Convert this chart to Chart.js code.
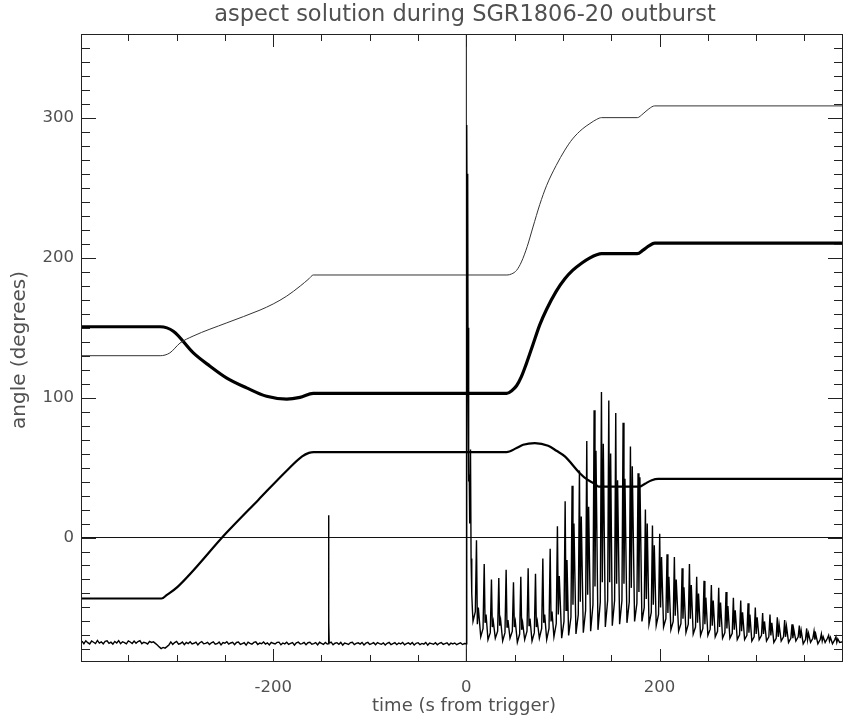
<!DOCTYPE html>
<html><head><meta charset="utf-8">
<script src="https://cdn.jsdelivr.net/npm/chart.js@4.4.0/dist/chart.umd.min.js"></script>
<style>html,body{margin:0;padding:0;background:#fff}canvas{display:block}</style>
</head><body>
<canvas id="c" width="844" height="719"></canvas>
<script>
// ---------------- text ----------------
const titleText = 'aspect solution during SGR1806-20 outburst';
const xTitle = 'time (s from trigger)';
const yTitle = 'angle (degrees)';

// ---------------- axes ----------------
const xRange = [-399, 390];
const yRange = [-89, 360];
const xMinorStep = 50, xMajorStep = 200;
const yMinorStep = 10, yMajorStep = 100;

// ---------------- aspect angles (thin, thick, medium) ----------------
const thinT = [-399, -317, -307, -296.5, -283, -248, -213.7, -200, -186, -172, -163, -158.5, 42, 47, 52, 57, 63, 69, 76, 83, 93, 102, 110, 120, 128, 135, 140, 177, 183, 189, 195, 390];
const thinV = [130, 130, 132, 139, 144, 153.5, 162.6, 167, 172.6, 179.8, 185, 187.7, 187.7, 188.5, 191, 197, 208, 222, 238, 251.5, 266, 277, 285, 292, 296, 299, 300.2, 300.2, 303, 306.5, 308.6, 308.6];

const thickT = [-399, -317, -303.4, -282.7, -265.4, -248, -227.5, -206.8, -186, -172.3, -158.5, 41.6, 47, 52, 57, 62, 69, 76, 83, 93, 102, 110, 120, 128, 135, 140, 177, 183, 189, 195, 390];
const thickV = [150.7, 150.7, 147.5, 132, 122.5, 114, 107, 101, 99, 100.2, 103, 103, 105, 108.5, 115, 124, 138, 152, 163, 176, 185, 191, 196.5, 200, 202.2, 203, 203, 205.5, 208.5, 210.5, 210.5];

const medT = [-399, -315.6, -310, -299, -248.9, -215.4, -185, -170, -163, -158, 41.6, 52, 58.8, 70.9, 84.7, 93.3, 102, 117.5, 125, 133, 137, 179.5, 185, 192, 198.5, 390];
const medV = [-43.6, -43.6, -41, -35.3, 3, 26.9, 48.5, 58, 60.5, 61, 61, 64, 66.3, 67.5, 65.6, 62, 58, 46, 41.5, 38.4, 36.4, 36.4, 38.5, 41, 42, 42];

// ---------------- light curve ----------------
// pre-trigger background, 2 s bins starting at -398 s
const preT0 = -398, preStep = 2;
const preV = [
 -74.1,-75.9,-73.8,-75.2,-76.1,-74.0,-74.9,-75.8,-73.6,-75.5,
 -74.6,-76.0,-74.2,-73.9,-75.7,-74.8,-76.2,-74.3,-75.4,-73.7,
 -75.9,-74.5,-75.1,-76.0,-73.9,-74.7,-75.8,-74.0,-75.6,-74.4,
 -73.8,-75.9,-74.9,-75.3,-76.1,-74.2,-75.0,-74.6,-75.7,
 -76.9,-78.2,-79.4,-78.6,-79.1,-78.0,-76.8,
 -74.6,-76.4,-75.1,-74.3,-76.2,-75.8,-74.7,-76.6,-75.0,-75.9,
 -74.5,-76.1,-75.6,-74.8,-76.7,-75.2,-74.4,-76.0,-75.7,-74.9,
 -76.5,-75.3,-74.6,-76.3,-75.9,-74.8,-76.8,-75.1,-75.6,-74.5,
 -76.2,-75.4,-74.9,-76.6,-75.0,-74.7,-76.4,-75.8,-75.2,-76.9,
 -74.8,-75.7,-76.3,-75.0,-74.6,-76.5,-75.5,-75.9,-74.7,-76.2,
 -75.3,-76.8,-74.9,-75.6,-76.1,-75.0,-74.8,-76.7,-75.4,-76.0,
 -74.9,-76.4,-75.7,-75.1,-76.9,-75.3,-74.8,-76.2,-75.9,-75.0,
 -76.6,-75.2,-74.9,-76.3,-75.8,-75.1,-76.8,-74.9,-75.7,-76.4,
 -75.0,-76.1,-75.5,-74.8,-76.7,-75.6,-75.2,-76.3,-75.0,-76.9,
 -75.4,-75.9,-76.5,-75.1,-74.9,-76.6,-75.7,-75.3,-76.2,-75.0,
 -76.8,-75.5,-75.0,-76.4,-75.9,-75.2,-76.7,-75.1,-75.8,-76.3,
 -75.3,-76.9,-75.6,-75.0,-76.5,-75.8,-75.2,-76.6,-75.4,-76.1,
 -75.0,-76.7,-75.9,-75.3,-76.4,-75.1,-76.8,-75.6,-75.2,-76.5,
 -75.7,-76.2,-75.0,-76.9,-75.5,-75.9,-76.3,-75.2,-76.7,-75.6,
 -75.1,-76.4,-75.8,-75.3,-76.8,-75.5,-76.1,-75.4,-76.6,-75.9,
 -75.3,-76.5,-75.8];
// precursor spike
const spikeT = [-143.0, -142.7, -142.3];
const spikeV = [-76, 16, -60];
// giant flare initial spike
const burstT = [0, 0.2, 0.6, 1.0, 1.4, 1.8, 2.2, 2.6, 3.0, 3.5, 4.3, 4.9, 5.6, 6.3];
const burstV = [-76, 200, 295, 180, 260, 110, 150, 40, 45, 10, 63, -15, -40, -52];
// pulsating tail: main peak time; per pulse: trough, low (rise start), main peak, dip, second peak
const pulseT = [10.5,18.5,26.0,33.6,41.2,48.8,56.4,64.0,71.6,79.2,86.8,94.3,102.3,109.5,117.1,124.7,132.3,139.9,147.5,154.7,162.3,169.9,177.8,185.4,192.7,200.2,207.8,215.4,223.4,231.0,238.5,246.1,253.7,261.3,268.9,276.5,284.1,291.7,299.2,306.8,314.4,322.0,329.6,337.2,344.8,352.4,360.0,367.6,375.1,382.7];
const pulseTrough = [-60,-71,-73,-72,-74,-72,-75,-73,-74,-72,-73,-71,-72,-70,-69,-68,-67,-66,-64,-63,-62,-61,-60,-60,-62,-63,-64,-66,-67,-68,-69,-70,-70,-71,-72,-72,-73,-73,-74,-73,-74,-75,-74,-75,-74,-76,-75,-76,-75,-76];
const pulseLow = [-53,-65,-68,-67,-68,-67,-69,-67,-68,-65,-65,-61.5,-60,-57,-55,-52,-48,-46,-45,-45,-45,-46,-47,-50,-53.5,-55,-58,-60,-61.5,-62,-64,-65,-65.5,-67,-68,-68.5,-69.5,-70,-71,-70,-71,-72,-71,-72,-71,-73,-72,-73,-72,-73];
const pulsePeak = [-2,-19,-30,-29,-23,-32,-28,-22,-26,-15,-8,8,26,37,48,69,91,104,98,89,82,65,46,20,8.6,2.6,-12,-14,-22,-19,-28,-31,-34,-36,-39,-43,-45,-47,-50,-54,-55,-57,-59,-62,-63,-65,-67,-69,-70,-71];
const pulseDip = [-62,-61,-64,-63,-64,-64,-66,-63,-64,-61,-60,-55,-52,-48,-46,-41,-35,-32,-32,-33,-33,-36,-39,-44,-48,-50,-54,-56,-58,-58,-61,-62,-63,-64,-65,-66,-67,-68,-69,-69,-70,-71,-71,-72,-72,-73,-73,-74,-74,-75];
const pulseSecond = [-50,-55,-60,-59,-59,-60,-61,-58,-60,-55,-53,-27.5,-16,10,15,22,62,67,60,41,42,51,43,10,-5.5,-14,-28,-30,-35.5,-34,-40,-43,-45,-46.5,-49,-52,-53.5,-55,-57,-60,-61,-62.5,-63.5,-66,-66.5,-68.5,-69.5,-71,-71.5,-72.5];
const profileOffset = [-3.6, -1.2, 0, 0.9, 1.9];
const tailT = [386.5, 390];
const tailV = [-75, -74.5];

// ---------------- build ----------------
const FONT = '"DejaVu Sans", sans-serif';
const TEXT = '#505050';
const pts = (xs, ys) => xs.map((x, i) => ({x, y: ys[i]}));

const lc = [];
preV.forEach((v, i) => lc.push({x: preT0 + preStep * i, y: v}));
lc.push(...pts(spikeT, spikeV));
lc.push(...pts(burstT, burstV));
pulseT.forEach((tp, k) => {
  const vals = [pulseTrough[k], pulseLow[k], pulsePeak[k], pulseDip[k], pulseSecond[k]];
  profileOffset.forEach((o, j) => lc.push({x: tp + o, y: vals[j]}));
});
lc.push(...pts(tailT, tailV));
lc.sort((a, b) => a.x - b.x);

const isMult = (v, s) => Math.abs(v / s - Math.round(v / s)) < 1e-6;

const framePlugin = {
  id: 'frame',
  afterDraw(chart) {
    const {ctx, chartArea: a, scales: {x, y}} = chart;
    ctx.save();
    ctx.strokeStyle = '#222';
    ctx.lineWidth = 1;
    ctx.strokeRect(a.left + 0.5, a.top + 0.5, a.right - a.left - 1, a.bottom - a.top - 1);
    ctx.beginPath();
    x.ticks.forEach(t => {
      if (!isMult(t.value, xMinorStep)) return;
      const px = Math.round(x.getPixelForValue(t.value)) + 0.5;
      const L = isMult(t.value, xMajorStep) ? 13 : 7;
      ctx.moveTo(px, a.bottom); ctx.lineTo(px, a.bottom - L);
      ctx.moveTo(px, a.top); ctx.lineTo(px, a.top + L);
    });
    y.ticks.forEach(t => {
      if (!isMult(t.value, yMinorStep)) return;
      const py = Math.round(y.getPixelForValue(t.value)) + 0.5;
      const L = isMult(t.value, yMajorStep) ? 15 : 9;
      ctx.moveTo(a.left, py); ctx.lineTo(a.left + L, py);
      ctx.moveTo(a.right, py); ctx.lineTo(a.right - L, py);
    });
    ctx.stroke();
    ctx.fillStyle = TEXT;
    ctx.textAlign = 'center';
    ctx.textBaseline = 'middle';
    ctx.font = '22.5px ' + FONT;
    ctx.fillText(titleText, 465, 15);
    ctx.font = '18px ' + FONT;
    ctx.fillText(xTitle, 464, 706);
    ctx.translate(20, 350);
    ctx.rotate(-Math.PI / 2);
    ctx.font = '20px ' + FONT;
    ctx.fillText(yTitle, 0, 0);
    ctx.restore();
  }
};

const lineDs = (data, w, color, smooth) => ({
  data, borderColor: color, borderWidth: w, pointRadius: 0, showLine: true, fill: false,
  tension: 0, cubicInterpolationMode: smooth ? 'monotone' : 'default'
});

new Chart(document.getElementById('c'), {
  type: 'scatter',
  data: {
    datasets: [
      lineDs(lc, 1.4, '#000', false),
      lineDs(pts(thinT, thinV), 1, '#333', true),
      lineDs(pts(thickT, thickV), 3.2, '#000', true),
      lineDs(pts(medT, medV), 2.2, '#000', true),
      lineDs(pts(xRange, [0, 0]), 1, '#111', false),
      lineDs(pts([0, 0], yRange), 1, '#111', false)
    ]
  },
  options: {
    responsive: false,
    animation: false,
    events: [],
    layout: {padding: {top: 34, right: 1, left: 0, bottom: 0}},
    plugins: {legend: {display: false}, tooltip: {enabled: false}, title: {display: false}},
    scales: {
      x: {
        type: 'linear', min: xRange[0], max: xRange[1],
        afterFit(s) { s.height = 57; },
        grid: {display: false, drawTicks: false},
        border: {display: false},
        ticks: {
          stepSize: xMinorStep, includeBounds: false, autoSkip: false, maxRotation: 0,
          padding: 16, color: TEXT, font: {family: FONT, size: 16.5},
          callback: v => isMult(v, xMajorStep) ? String(v) : ''
        }
      },
      y: {
        type: 'linear', min: yRange[0], max: yRange[1],
        afterFit(s) { s.width = 81; },
        grid: {display: false, drawTicks: false},
        border: {display: false},
        ticks: {
          stepSize: yMinorStep, includeBounds: false, autoSkip: false,
          padding: 7, color: TEXT, font: {family: FONT, size: 16.5},
          callback: v => isMult(v, yMajorStep) ? String(v) : ''
        }
      }
    }
  },
  plugins: [framePlugin]
});
</script>
</body></html>
